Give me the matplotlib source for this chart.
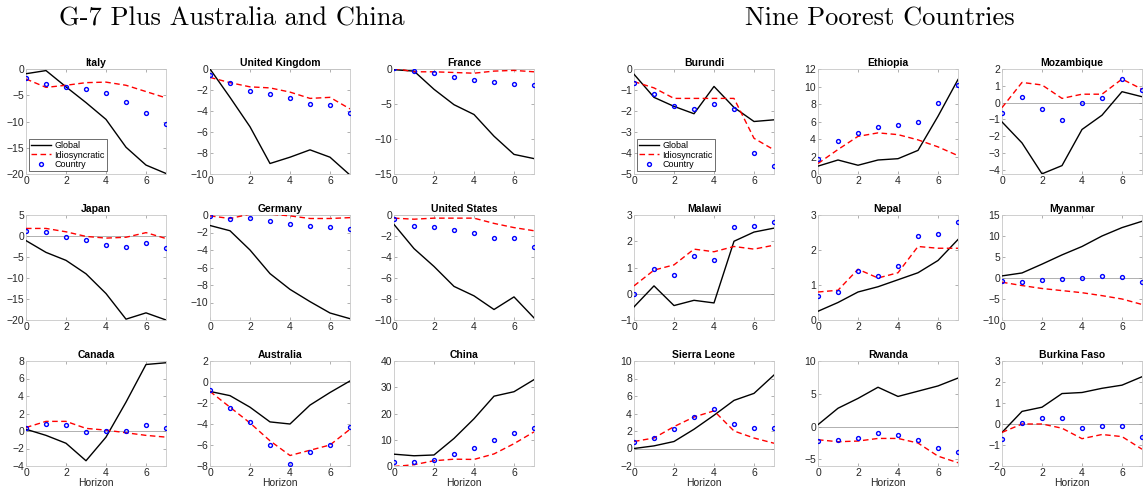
import matplotlib
matplotlib.use("Agg")
import matplotlib.pyplot as plt

plt.rcParams['font.family'] = ['Liberation Sans', 'DejaVu Sans']

horizon = [0, 1, 2, 3, 4, 5, 6, 7]

# ---------- G-7 plus Australia and China ----------
countries_left = ["Italy", "United Kingdom", "France",
                  "Japan", "Germany", "United States",
                  "Canada", "Australia", "China"]

italy_global = [-0.9, -0.3, -3.4, -6.4, -9.6, -14.9, -18.3, -19.9]
italy_idio = [-1.9, -3.5, -3.1, -2.6, -2.5, -3.1, -4.3, -5.5]
italy_country = [-1.7, -2.9, -3.4, -3.8, -4.6, -6.3, -8.3, -10.4]

uk_global = [0.0, -2.7, -5.5, -9.0, -8.4, -7.7, -8.4, -10.1]
uk_idio = [-0.8, -1.3, -1.7, -1.8, -2.2, -2.8, -2.7, -3.8]
uk_country = [-0.6, -1.3, -2.1, -2.4, -2.8, -3.3, -3.4, -4.2]

france_global = [-0.1, -0.3, -2.9, -5.1, -6.5, -9.6, -12.2, -12.8]
france_idio = [0.1, -0.4, -0.4, -0.5, -0.6, -0.3, -0.2, -0.4]
france_country = [0.1, -0.3, -0.6, -1.2, -1.6, -1.8, -2.2, -2.3]

japan_global = [-1.1, -3.9, -5.8, -9.0, -13.7, -19.8, -18.3, -20.0]
japan_idio = [1.8, 1.8, 1.0, -0.1, -0.5, -0.3, 0.8, -0.6]
japan_country = [1.3, 0.9, -0.2, -1.0, -2.2, -2.5, -1.6, -2.9]

germany_global = [-1.2, -1.8, -4.0, -6.7, -8.5, -9.9, -11.2, -11.85]
germany_idio = [-0.1, -0.4, 0.1, 0.1, -0.1, -0.4, -0.4, -0.3]
germany_country = [-0.15, -0.5, -0.35, -0.7, -1.0, -1.3, -1.4, -1.55]

us_global = [-0.9, -3.2, -4.9, -6.8, -7.7, -9.0, -7.8, -9.8]
us_idio = [-0.3, -0.4, -0.3, -0.3, -0.3, -0.8, -1.2, -1.5]
us_country = [-0.4, -1.0, -1.1, -1.4, -1.7, -2.2, -2.2, -3.0]

canada_global = [0.2, -0.5, -1.4, -3.4, -0.7, 3.3, 7.6, 7.8]
canada_idio = [0.4, 1.1, 1.1, 0.3, 0.1, -0.2, -0.5, -0.7]
canada_country = [0.4, 0.8, 0.65, -0.15, 0.05, 0.05, 0.7, 0.4]

australia_global = [-0.9, -1.3, -2.4, -3.8, -4.0, -2.2, -1.0, 0.1]
australia_idio = [-0.9, -2.4, -3.9, -5.6, -7.0, -6.5, -6.0, -4.5]
australia_country = [-0.75, -2.5, -3.8, -6.0, -7.8, -6.7, -6.0, -4.3]

china_global = [4.5, 3.9, 4.2, 10.5, 18.0, 26.6, 28.3, 32.9]
china_idio = [-0.2, 0.5, 2.0, 2.6, 2.5, 4.6, 8.5, 13.0]
china_country = [1.5, 1.5, 2.1, 4.5, 7.0, 10.0, 12.6, 14.6]

# ---------- Nine poorest countries ----------
countries_right = ["Burundi", "Ethiopia", "Mozambique",
                   "Malawi", "Nepal", "Myanmar",
                   "Sierra Leone", "Rwanda", "Burkina Faso"]

burundi_global = [-0.25, -1.35, -1.78, -2.13, -0.83, -1.83, -2.5, -2.42]
burundi_idio = [-0.6, -0.9, -1.4, -1.4, -1.4, -1.4, -3.3, -3.85]
burundi_country = [-0.67, -1.2, -1.78, -1.92, -1.67, -1.9, -4.0, -4.6]

ethiopia_global = [0.9, 1.6, 1.0, 1.6, 1.75, 2.7, 6.6, 10.8]
ethiopia_idio = [1.2, 2.8, 4.3, 4.7, 4.5, 3.9, 3.1, 2.1]
ethiopia_country = [1.75, 3.8, 4.65, 5.4, 5.6, 6.0, 8.15, 10.15]

mozambique_global = [-1.15, -2.4, -4.24, -3.75, -1.6, -0.75, 0.65, 0.35]
mozambique_idio = [-0.3, 1.2, 1.05, 0.25, 0.5, 0.5, 1.4, 0.8]
mozambique_country = [-0.63, 0.35, -0.4, -1.03, 0.0, 0.25, 1.42, 0.75]

malawi_global = [-0.5, 0.3, -0.45, -0.25, -0.35, 2.0, 2.35, 2.5]
malawi_idio = [0.3, 0.9, 1.1, 1.7, 1.6, 1.8, 1.7, 1.85]
malawi_country = [0.0, 0.95, 0.7, 1.45, 1.3, 2.55, 2.6, 2.75]

nepal_global = [0.25, 0.5, 0.8, 0.95, 1.15, 1.35, 1.7, 2.3]
nepal_idio = [0.8, 0.85, 1.45, 1.2, 1.35, 2.1, 2.05, 2.05]
nepal_country = [0.7, 0.8, 1.4, 1.25, 1.55, 2.4, 2.45, 2.8]

myanmar_global = [0.5, 1.2, 3.3, 5.5, 7.5, 10.0, 12.0, 13.5]
myanmar_idio = [-1.0, -1.8, -2.5, -3.0, -3.5, -4.2, -5.0, -6.3]
myanmar_country = [-0.8, -1.0, -0.5, -0.3, 0.0, 0.4, 0.3, -1.0]

sierra_global = [0.0, 0.3, 0.8, 2.2, 3.8, 5.5, 6.3, 8.4]
sierra_idio = [0.8, 1.2, 2.5, 3.6, 4.3, 2.0, 1.2, 0.6]
sierra_country = [0.8, 1.2, 2.2, 3.6, 4.5, 2.8, 2.3, 2.4]

rwanda_global = [0.3, 2.8, 4.3, 6.0, 4.6, 5.4, 6.2, 7.4]
rwanda_idio = [-2.0, -2.3, -2.2, -1.8, -1.8, -2.5, -4.5, -5.5]
rwanda_country = [-2.2, -2.0, -1.8, -1.0, -1.2, -2.0, -3.2, -3.8]

burkina_global = [-0.4, 0.6, 0.8, 1.45, 1.5, 1.7, 1.85, 2.25]
burkina_idio = [-0.4, 0.0, 0.0, -0.2, -0.7, -0.5, -0.6, -1.2]
burkina_country = [-0.7, 0.05, 0.3, 0.3, -0.2, -0.1, -0.1, -0.6]

panels = [
    ("Italy", italy_global, italy_idio, italy_country, (-20, 0), [-20, -15, -10, -5, 0]),
    ("United Kingdom", uk_global, uk_idio, uk_country, (-10, 0), [-10, -8, -6, -4, -2, 0]),
    ("France", france_global, france_idio, france_country, (-15, 0), [-15, -10, -5, 0]),
    ("Japan", japan_global, japan_idio, japan_country, (-20, 5), [-20, -15, -10, -5, 0, 5]),
    ("Germany", germany_global, germany_idio, germany_country, (-12, 0), [-10, -8, -6, -4, -2, 0]),
    ("United States", us_global, us_idio, us_country, (-10, 0), [-10, -8, -6, -4, -2, 0]),
    ("Canada", canada_global, canada_idio, canada_country, (-4, 8), [-4, -2, 0, 2, 4, 6, 8]),
    ("Australia", australia_global, australia_idio, australia_country, (-8, 2), [-8, -6, -4, -2, 0, 2]),
    ("China", china_global, china_idio, china_country, (0, 40), [0, 10, 20, 30, 40]),
    ("Burundi", burundi_global, burundi_idio, burundi_country, (-5, 0), [-5, -4, -3, -2, -1, 0]),
    ("Ethiopia", ethiopia_global, ethiopia_idio, ethiopia_country, (0, 12), [0, 2, 4, 6, 8, 10, 12]),
    ("Mozambique", mozambique_global, mozambique_idio, mozambique_country, (-4.25, 2), [-4, -3, -2, -1, 0, 1, 2]),
    ("Malawi", malawi_global, malawi_idio, malawi_country, (-1, 3), [-1, 0, 1, 2, 3]),
    ("Nepal", nepal_global, nepal_idio, nepal_country, (0, 3), [0, 1, 2, 3]),
    ("Myanmar", myanmar_global, myanmar_idio, myanmar_country, (-10, 15), [-10, -5, 0, 5, 10, 15]),
    ("Sierra Leone", sierra_global, sierra_idio, sierra_country, (-2, 10), [-2, 0, 2, 4, 6, 8, 10]),
    ("Rwanda", rwanda_global, rwanda_idio, rwanda_country, (-6, 10), [-5, 0, 5, 10]),
    ("Burkina Faso", burkina_global, burkina_idio, burkina_country, (-2, 3), [-2, -1, 0, 1, 2, 3]),
]

W, H = 1143, 493
fig = plt.figure(figsize=(W / 100, H / 100), dpi=100)

col_left = [26, 210, 394, 634, 818, 1002]
col_w = 140
row_top = [69, 215, 361]
row_h = 105

spine_c = "#c8c8c8"
text_c = "#262626"

for i, (name, g, idi, c, ylim, yt) in enumerate(panels):
    grp = i // 9
    k = i % 9
    r, cc = k // 3, k % 3
    x0 = col_left[grp * 3 + cc]
    y0 = row_top[r]
    ax = fig.add_axes([x0 / W, 1 - (y0 + row_h) / H, col_w / W, row_h / H])
    ax.axhline(0, color="#b0b0b0", lw=0.7, zorder=1)
    ax.plot(horizon, g, color="black", lw=1.0, label="Global", zorder=3)
    ax.plot(horizon, idi, color="#ff0000", lw=1.0, ls=(0, (4, 2.5)), label="Idiosyncratic", zorder=3)
    ax.plot(horizon, c, ls="none", marker="o", ms=2.8, mfc="none", mec="#0000ff", mew=1.0,
            label="Country", zorder=4)
    ax.set_xlim(0, 7)
    ax.set_ylim(*ylim)
    ax.set_xticks([0, 2, 4, 6])
    ax.set_yticks(yt)
    ax.tick_params(direction="in", length=2.5, width=0.5, color="#909090",
                   labelsize=7.5, labelcolor=text_c, pad=1.5, top=True, right=True,
                   labeltop=False, labelright=False)
    for s in ax.spines.values():
        s.set_color(spine_c)
        s.set_linewidth(0.6)
    ax.set_title(name, fontsize=7.5, fontweight="bold", pad=2, color="black")
    if r == 2:
        ax.set_xlabel("Horizon", fontsize=7.5, color=text_c, labelpad=0)
    if k == 0:
        leg = ax.legend(loc="lower left", fontsize=6.5, frameon=True, fancybox=False,
                        borderpad=0.25, labelspacing=0.05, handlelength=2.2,
                        handletextpad=0.4, borderaxespad=0.3)
        leg.get_frame().set_edgecolor("black")
        leg.get_frame().set_linewidth(0.5)

title_family = ["cmr10", "Liberation Serif", "DejaVu Serif"]
fig.text(232 / W, 1 - 19 / H, "G-7 Plus Australia and China", ha="center", va="center",
         fontsize=19, family=title_family)
fig.text(880 / W, 1 - 19 / H, "Nine Poorest Countries", ha="center", va="center",
         fontsize=19, family=title_family)

fig.savefig("out.png", dpi=100)
